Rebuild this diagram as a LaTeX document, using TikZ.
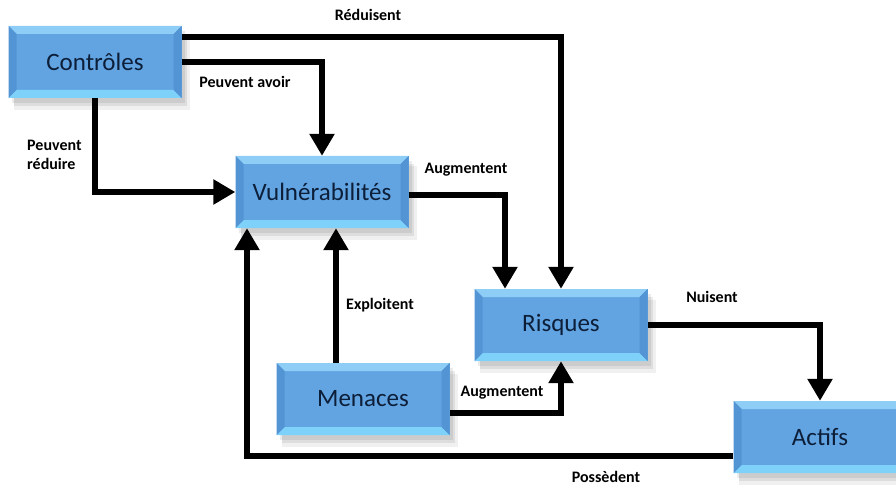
\documentclass[tikz,border=0pt]{standalone}
\usepackage{fontspec}
\setmainfont{Carlito}
\usetikzlibrary{arrows.meta,shadows,calc}
\definecolor{boxbase}{HTML}{62A4E2}
\definecolor{bevtop}{HTML}{8ECDF5}
\definecolor{bevbot}{HTML}{7ED2FA}
\definecolor{bevside}{HTML}{5394D4}
\definecolor{boxtext}{HTML}{0C1E38}
\tikzset{
  box/.style={rectangle, minimum width=173pt, minimum height=72pt, inner sep=0pt,
    fill=boxbase, text=boxtext, font=\fontsize{25}{27}\selectfont,
    drop shadow={shadow xshift=7pt, shadow yshift=-11pt, shadow scale=1.02, fill=black, opacity=0.06},
    drop shadow={shadow xshift=5pt, shadow yshift=-8pt, fill=black, opacity=0.08},
    drop shadow={shadow xshift=3pt, shadow yshift=-5pt, fill=black, opacity=0.08},
    path picture={
      \fill[bevtop] (path picture bounding box.north west) -- (path picture bounding box.north east)
        -- ([xshift=-8pt,yshift=-8pt]path picture bounding box.north east)
        -- ([xshift=8pt,yshift=-8pt]path picture bounding box.north west) -- cycle;
      \fill[bevbot] (path picture bounding box.south west) -- (path picture bounding box.south east)
        -- ([xshift=-8pt,yshift=8pt]path picture bounding box.south east)
        -- ([xshift=8pt,yshift=8pt]path picture bounding box.south west) -- cycle;
      \fill[bevside] (path picture bounding box.south west) -- (path picture bounding box.north west)
        -- ([xshift=8pt,yshift=-8pt]path picture bounding box.north west)
        -- ([xshift=8pt,yshift=8pt]path picture bounding box.south west) -- cycle;
      \fill[bevside] (path picture bounding box.south east) -- (path picture bounding box.north east)
        -- ([xshift=-8pt,yshift=-8pt]path picture bounding box.north east)
        -- ([xshift=-8pt,yshift=8pt]path picture bounding box.south east) -- cycle;
    }},
  conn/.style={line width=6pt, -{Triangle[width=24pt,length=22pt]}},
  lbl/.style={font=\bfseries\fontsize{16}{19}\selectfont, text=black, inner sep=0pt}
}
\begin{document}
\begin{tikzpicture}[x=1pt,y=-1pt]
\useasboundingbox (0,0) rectangle (896,489);
\begin{scope}
\clip (0,0) rectangle (896,489);
\node[box] (ctrl) at (95,62) {Contrôles};
\node[box] (vuln) at (322,192) {Vulnérabilités};
\node[box] (risk) at (561,325) {Risques};
\node[box] (men) at (363,399) {Menaces};
\node[box] (act) at (820,437) {Actifs};

\draw[conn] ([yshift=25pt]ctrl.east) -| (risk.north);
\draw[conn] (ctrl.east) -| (vuln.north);
\draw[conn] (ctrl.south) |- (vuln.west);
\draw[conn] ([yshift=-3pt]vuln.east) -| ([xshift=-56pt]risk.north);
\draw[conn] ([xshift=-27pt]men.north) -- ([xshift=-27pt]men.north |- vuln.south);
\draw[conn] ([yshift=-19pt]act.west) -| ([xshift=-75pt]vuln.south);
\draw[conn] ([yshift=-14pt]men.east) -| (risk.south);
\draw[conn] (risk.east) -| (act.north);
\end{scope}

\node[lbl] (l1) at (368,15) {Réduisent};
\node[lbl] (l2) at (245,82) {Peuvent avoir};
\node[lbl, align=left, anchor=west] (l3) at (27,155) {Peuvent\\réduire};
\node[lbl] (l4) at (466,170) {Augmentent};
\node[lbl] (l5) at (380,305) {Exploitent};
\node[lbl] (l6) at (712,297) {Nuisent};
\node[lbl] (l7) at (502,393) {Augmentent};
\node[lbl] (l8) at (606,477) {Possèdent};
\end{tikzpicture}
\end{document}
